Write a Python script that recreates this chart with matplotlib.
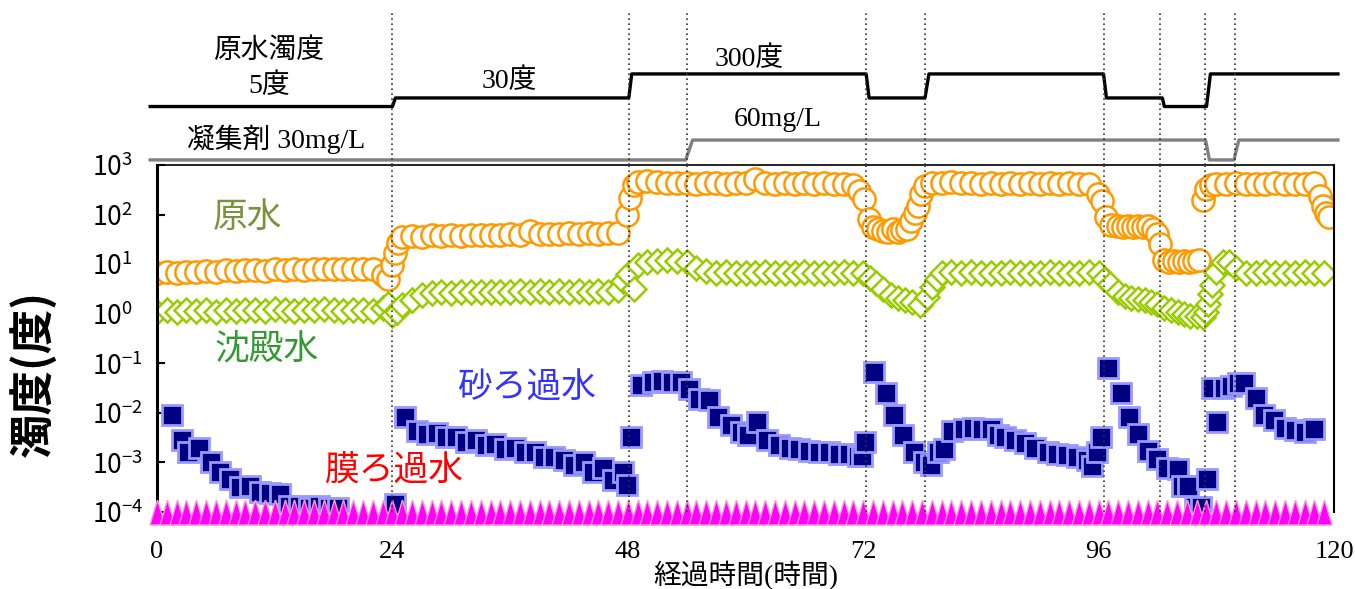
# ============================================
# 濁度の経時変化 (原水 / 沈殿水 / 砂ろ過水 / 膜ろ過水)
# ============================================

import matplotlib
matplotlib.use("Agg")
import matplotlib.pyplot as plt
from matplotlib.ticker import LogLocator, LogFormatterMathtext, NullLocator

plt.rcParams['font.family'] = ['Noto Sans CJK JP', 'DejaVu Sans']
plt.rcParams['mathtext.fontset'] = 'custom'
plt.rcParams['mathtext.rm'] = 'Liberation Sans'
plt.rcParams['mathtext.it'] = 'Liberation Sans:italic'
plt.rcParams['mathtext.bf'] = 'Liberation Sans:bold'

# ============================================
# Data
# ============================================

# 原水 (raw water)
raw_t = [0, 1, 2, 3, 4, 5, 6, 7, 8, 9, 10, 11, 12, 13, 14, 15, 16, 17, 18, 19, 20, 21, 22,
         23, 23.5, 24, 24.3, 24.6,
         25, 26, 27, 28, 29, 30, 31, 32, 33, 34, 35, 36, 37, 38, 39, 40, 41, 42, 43, 44, 45, 46, 47,
         47.9, 48.2, 48.6,
         49, 50, 51, 52, 53, 54, 55, 56, 57, 58, 59, 60, 61, 62, 63, 64, 65, 66, 67, 68, 69, 70, 71,
         71.6, 72.1, 72.6, 73, 73.5, 74, 74.5, 75, 75.5, 76, 76.5, 76.9, 77.3, 77.6, 77.9, 78.3,
         79, 80, 81, 82, 83, 84, 85, 86, 87, 88, 89, 90, 91, 92, 93, 94, 95,
         95.9, 96.3, 96.8, 97.3, 98, 98.5, 99, 99.5, 100, 100.5, 101, 101.5, 102, 102.3, 102.7,
         103.2, 103.7, 104.2, 104.7, 105.2, 105.7, 106.2, 106.6, 106.9, 107.5,
         108, 109, 110, 111, 112, 113, 114, 115, 116, 117, 118,
         118.6, 118.9, 119.2, 119.5]
raw_v = [6.5, 6.8, 6.6, 7.0, 6.8, 7.2, 7.0, 7.5, 7.3, 7.5, 7.6, 7.4, 7.8, 7.6, 7.8, 7.7, 7.9, 7.8, 8.0, 7.8, 8.0, 7.9, 8.0,
         6.0, 5.0, 9.5, 17, 27,
         36, 37, 36, 38, 37, 38, 37, 39, 38, 39, 38, 40, 39, 46, 40, 41, 40, 42, 41, 42, 41, 42, 42,
         100, 220, 400,
         460, 470, 450, 430, 440, 430, 420, 440, 430, 420, 430, 440, 520, 430, 420, 430, 420, 430, 420, 430, 420, 410, 400,
         300, 210, 80, 55, 52, 47, 45, 50, 44, 48, 52, 75, 110, 150, 260, 380,
         430, 440, 450, 440, 430, 420, 430, 420, 430, 420, 430, 420, 430, 420, 430, 420, 410,
         260, 190, 88, 62, 58, 55, 60, 56, 58, 55, 60, 52, 40, 25, 12,
         11, 11.5, 11, 11.5, 11, 11.5, 12, 200, 330, 400,
         410, 420, 430, 420, 410, 420, 430, 420, 410, 420, 430,
         240, 150, 110, 88]

# 沈殿水 (settled water)
settled_t = [0, 1, 2, 3, 4, 5, 6, 7, 8, 9, 10, 11, 12, 13, 14, 15, 16, 17, 18, 19, 20, 21, 22,
             23, 23.5, 24, 24.5, 25, 26, 27,
             28, 29, 30, 31, 32, 33, 34, 35, 36, 37, 38, 39, 40, 41, 42, 43, 44, 45, 46,
             47, 47.5, 48, 48.6, 49,
             50, 51, 52, 53, 54, 55, 56,
             57, 58, 59, 60, 61, 62, 63, 64, 65, 66, 67, 68, 69, 70, 71, 72,
             72.7, 73.3, 74, 74.8, 75.5, 76.3, 77, 77.8, 78.5, 79, 79.5,
             80, 81, 82, 83, 84, 85, 86, 87, 88, 89, 90, 91, 92, 93, 94, 95, 96,
             96.6, 97.2, 98, 98.7, 99.3, 100, 100.7, 101.3, 102, 102.7, 103.4, 104.1, 104.7,
             105.3, 106, 106.6, 107, 107.2, 107.4, 107.6, 108, 108.7, 109.3, 110,
             111, 112, 113, 114, 115, 116, 117, 118, 119]
settled_v = [1.1, 1.2, 1.1, 1.2, 1.15, 1.2, 1.1, 1.2, 1.15, 1.2, 1.2, 1.15, 1.25, 1.2, 1.15, 1.2, 1.2, 1.25, 1.2, 1.15, 1.2, 1.2, 1.15,
             1.3, 1.6, 0.95, 1.1, 1.5, 1.9, 2.4,
             2.6, 2.7, 2.6, 2.7, 2.8, 2.7, 2.8, 2.7, 2.8, 2.9, 2.8, 2.9, 2.8, 2.9, 2.8, 2.9, 2.8, 2.9, 2.8,
             3.0, 4.5, 6.2, 3.2, 9.5,
             11, 11.5, 12, 11.5, 11, 8.5, 7.2,
             6.6, 6.8, 6.5, 6.7, 6.6, 6.8, 6.5, 6.7, 6.6, 6.8, 6.5, 6.7, 6.6, 6.8, 6.5, 6.7,
             5.3, 4.2, 3.2, 2.4, 2.1, 1.9, 1.7, 1.5, 2.2, 3.5, 5.0,
             6.5, 6.8, 6.6, 6.8, 6.5, 6.7, 6.6, 6.8, 6.5, 6.7, 6.6, 6.8, 6.5, 6.7, 6.6, 6.8, 6.6,
             5.0, 3.9, 2.8, 2.3, 2.1, 2.0, 1.9, 1.7, 1.6, 1.3, 1.2, 1.1, 1.0,
             0.92, 0.88, 0.85, 1.1, 1.6, 2.5, 3.8, 7.0, 11, 11, 8.5,
             6.7, 6.5, 6.8, 6.6, 6.7, 6.5, 6.8, 6.6, 6.7]

# 砂ろ過水 (sand filtered water)
sand_t = [1.5, 2.5, 3.2, 4.3, 5.5, 6.4, 7.4, 8.5, 9.5, 10.5, 11.5, 12.5,
          13.5, 14.5, 15.5, 16.5, 17.5, 18.5, 24.3,
          25.3, 26.5, 27.5, 28.5, 29.5, 30.5, 31.5, 32.5, 33.5, 34.5, 35.5, 36.5, 37.5, 38.5,
          39.5, 40.5, 41.5, 42.5, 43.5, 44.5, 45.5, 46.5, 47.5, 47.9, 48.3,
          49.3, 50.6, 51.5, 52.5, 53.4, 54.2, 55.3, 56.3, 57.2, 58.5, 59.5, 60.3, 61.2, 62.2,
          63.4, 64.5, 65.5, 66.5, 67.5, 68.5, 69.5, 70.5, 71.5, 71.9, 72.2,
          73.1, 74.3, 75.1, 76.1, 77.2, 78.2, 78.9, 79.6, 80.2, 81.1, 82.3, 83.2, 84.1, 85.0,
          85.7, 86.5, 87.5, 88.5, 89.5, 90.8, 91.8, 92.8, 93.8, 94.8, 95.3, 95.8, 96.2,
          97.0, 98.3, 99.1, 100.0, 101.0, 102.0, 103.0, 104.1, 104.5, 105.1, 105.8, 106.4,
          107.1, 107.6, 108.1, 108.8, 109.5, 110.2, 110.8, 112.0, 112.9, 113.9,
          115.0, 116.0, 117.0, 118.0]
sand_v = [0.0089, 0.0028, 0.0016, 0.0020, 0.0010, 0.00063, 0.00047, 0.00032, 0.00034, 0.00025, 0.00024, 0.00023,
          0.00013, 0.00013, 0.00012, 0.00013, 0.00012, 0.00012, 0.000145,
          0.0083, 0.0044, 0.0038, 0.0040, 0.0032, 0.0033, 0.0026, 0.0028, 0.0022, 0.0024, 0.0019, 0.0020, 0.0016, 0.00166,
          0.0013, 0.00126, 0.00112, 0.00089, 0.0010, 0.00063, 0.00079, 0.00045, 0.00063, 0.00035, 0.0032,
          0.036, 0.042, 0.044, 0.042, 0.042, 0.030, 0.019, 0.018, 0.0081, 0.0056, 0.0041, 0.0035, 0.0065, 0.0028,
          0.0022, 0.0020, 0.0019, 0.0017, 0.00166, 0.0016, 0.0015, 0.00145, 0.00135, 0.00135, 0.0026,
          0.068, 0.025, 0.0089, 0.0035, 0.0016, 0.0010, 0.00087, 0.0016, 0.0019, 0.0044, 0.0048, 0.0050, 0.0048, 0.0048,
          0.0035, 0.0032, 0.0028, 0.0025, 0.0020, 0.0016, 0.0015, 0.0014, 0.00126, 0.00112, 0.00085, 0.0016, 0.0032,
          0.079, 0.025, 0.0081, 0.0038, 0.0017, 0.00117, 0.00079, 0.00074, 0.00034, 0.00034, 0.000126, 0.000126,
          0.00047, 0.032, 0.0065, 0.032, 0.035, 0.040, 0.040, 0.020, 0.0089, 0.0071,
          0.0050, 0.0045, 0.0042, 0.0048]

# 膜ろ過水 (membrane filtered water): every reading at the lower limit
membrane_t = list(range(0, 120))
membrane_v = [1e-4] * 120

# upper panel: raw water turbidity setting and coagulant dose
raw_set_t = [-0.7, 24.0, 24.3, 48.1, 48.4, 72.3, 72.6, 78.3, 78.7, 96.5, 96.8,
             102.5, 102.7, 107.0, 107.4, 120.4]
raw_set_v = [5, 5, 30, 30, 300, 300, 30, 30, 300, 300, 30, 30, 5, 5, 300, 300]
coag_t = [-0.7, 53.9, 54.6, 106.9, 107.3, 109.8, 110.3, 120.4]
coag_v = [30, 30, 60, 60, 30, 30, 60, 60]

# times where conditions were changed
change_t = [24, 48.1, 54, 72.3, 78.3, 96.5, 102.3, 106.8, 109.9]

x_ticks = [0, 24, 48, 72, 96, 120]

# ============================================
# Figure
# ============================================

fig = plt.figure(figsize=(13.55, 5.89), dpi=100)

ax = fig.add_axes([0.1159, 0.1307, 0.8686, 0.5892])
ax_top = fig.add_axes([0.1159, 0.7199, 0.8686, 0.2598])

# --------------------------------------------
# upper schematic panel
# --------------------------------------------
raw_level = {5: 0.382, 30: 0.438, 300: 0.595}
coag_level = {30: 0.033, 60: 0.163}

ax_top.plot(raw_set_t, [raw_level[v] for v in raw_set_v],
            color='black', lw=2.4, clip_on=False)
ax_top.plot(coag_t, [coag_level[v] for v in coag_v],
            color='#808080', lw=2.4, clip_on=False)

ax_top.set_xlim(0, 120)
ax_top.set_ylim(0, 1)
ax_top.axis('off')

serif_cjk = ['Liberation Serif', 'Noto Sans CJK JP']
ax_top.text(11.4, 0.745, '原水濁度', ha='center', va='center', fontsize=20, family=serif_cjk)
ax_top.text(11.4, 0.516, '5度', ha='center', va='center', fontsize=20, family=serif_cjk)
ax_top.text(35.9, 0.549, '30度', ha='center', va='center', fontsize=20, family=serif_cjk)
ax_top.text(60.4, 0.693, '300度', ha='center', va='center', fontsize=20, family=serif_cjk)
ax_top.text(12.1, 0.170, '凝集剤 30mg/L', ha='center', va='center', fontsize=20, family=serif_cjk)
ax_top.text(63.3, 0.294, '60mg/L', ha='center', va='center', fontsize=20, family=serif_cjk)

# --------------------------------------------
# main panel
# --------------------------------------------
ax.plot(raw_t, raw_v, ls='none', marker='o', ms=16,
        mfc='white', mec='#FF9900', mew=1.8)
ax.plot(settled_t, settled_v, ls='none', marker='D', ms=12.5,
        mfc='white', mec='#99CC00', mew=1.8)
ax.plot(sand_t, sand_v, ls='none', marker='s', ms=14.5,
        mfc='#000080', mec='#9999FF', mew=2)

narrow_tri = [(0, 1), (-0.6, -1), (0.6, -1), (0, 1)]
ax.plot(membrane_t, membrane_v, ls='none', marker=narrow_tri, ms=18,
        mfc='#FF00FF', mec='#FF99CC', mew=1, clip_on=False, zorder=4)

dots = (0, (1, 2))
for t in change_t:
    ax.axvline(t, color='#333333', lw=1.2, ls=dots, zorder=10)
    ax_top.axvline(t, color='#333333', lw=1.2, ls=dots, zorder=10)

ax.set_xlim(0, 120)
ax.set_yscale('log')
ax.set_ylim(1e-4, 1e3)
ax.yaxis.set_major_locator(LogLocator(base=10, numticks=12))
ax.yaxis.set_major_formatter(LogFormatterMathtext())
ax.yaxis.set_minor_locator(NullLocator())

ax.set_xticks(x_ticks)
ax.set_xticklabels([str(v) for v in x_ticks], fontsize=19, family='Liberation Serif')
ax.tick_params(axis='x', length=0, pad=21)
ax.tick_params(axis='y', direction='in', length=6, width=1.5, pad=47, labelsize=19)
for tk in ax.yaxis.get_major_ticks():
    tk.label1.set_horizontalalignment('left')

ax.spines['bottom'].set_visible(False)
ax.spines['left'].set_linewidth(2.2)
ax.spines['right'].set_linewidth(1.5)
ax.spines['top'].set_linewidth(1.2)

ax.set_xlabel('経過時間(時間)', fontsize=20, family=serif_cjk, va='center')
ax.xaxis.set_label_coords(0.5, -0.182)
ax.set_ylabel('濁度(度)', fontsize=32, fontweight='bold', va='center', ha='center')
ax.yaxis.set_label_coords(-0.105, 0.40)

# series names
ax.text(0.0765, 0.850, '原水', transform=ax.transAxes, ha='center', va='center',
        fontsize=25, color='#77933C')
ax.text(0.0935, 0.470, '沈殿水', transform=ax.transAxes, ha='center', va='center',
        fontsize=25, color='#339933')
ax.text(0.3144, 0.357, '砂ろ過水', transform=ax.transAxes, ha='center', va='center',
        fontsize=25, color='#3333FF')
ax.text(0.2014, 0.121, '膜ろ過水', transform=ax.transAxes, ha='center', va='center',
        fontsize=25, color='#FF0000')

fig.savefig('out.png', dpi=100)
